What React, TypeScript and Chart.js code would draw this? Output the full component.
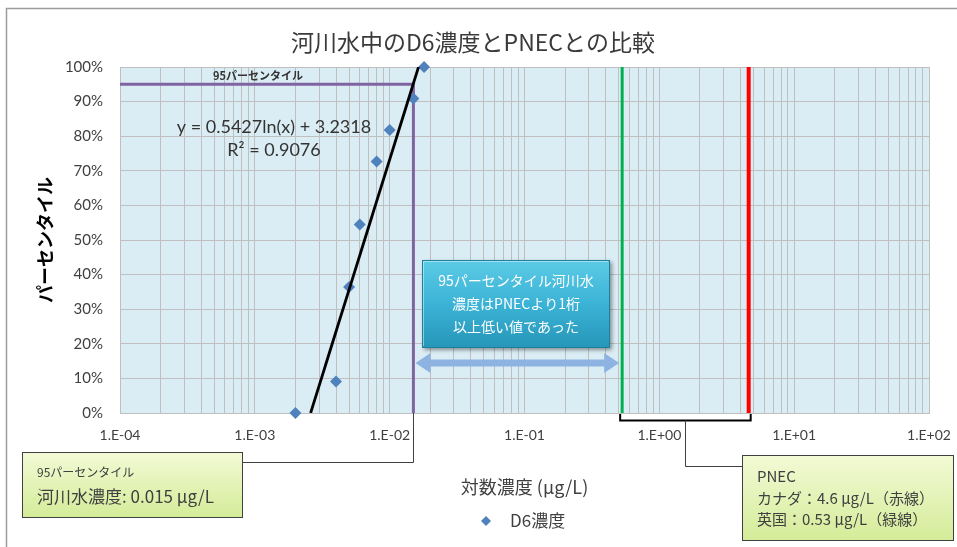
import React, { useEffect, useRef } from "react";
import { Chart, registerables } from "chart.js";

Chart.register(...registerables);

// ---------- data ----------
const chartTitle = "河川水中のD6濃度とPNECとの比較";
const seriesName = "D6濃度";
const d6Concentration = [0.002, 0.004, 0.005, 0.006, 0.008, 0.01, 0.015, 0.018];
const d6Percentile = [0, 9.1, 36.4, 54.5, 72.7, 81.8, 90.9, 100];
const trendCoefA = 0.5427;
const trendCoefB = 3.2318;
const trendPercentRange = [0, 100];
const trendLabel = ["y = 0.5427ln(x) + 3.2318", "R² = 0.9076"];
const p95Percentile = 95;
const p95Concentration = 0.015;
const pnecUK = 0.53;
const pnecCanada = 4.6;
const xDecades = [-4, -3, -2, -1, 0, 1, 2];
const xTickLabels = ["1.E-04", "1.E-03", "1.E-02", "1.E-01", "1.E+00", "1.E+01", "1.E+02"];
const yTickValues = [0, 10, 20, 30, 40, 50, 60, 70, 80, 90, 100];
const yTickLabels = ["0%", "10%", "20%", "30%", "40%", "50%", "60%", "70%", "80%", "90%", "100%"];
const xAxisTitle = "対数濃度 (μg/L)";
const yAxisTitle = "パーセンタイル";
const p95LineLabel = "95パーセンタイル";
const callout95 = ["95パーセンタイル", "河川水濃度: 0.015 μg/L"];
const calloutPnec = ["PNEC", "カナダ：4.6 μg/L（赤線）", "英国：0.53 μg/L（緑線）"];
const noteLines = ["95パーセンタイル河川水", "濃度はPNECより1桁", "以上低い値であった"];

const X_MIN = Math.pow(10, xDecades[0]);
const X_MAX = Math.pow(10, xDecades[xDecades.length - 1]);

const JP = "'Noto Sans CJK JP', sans-serif";
const LAT = "Lato, 'Noto Sans CJK JP', sans-serif";
const TXT = "#404040";

function buildXGrid(): number[] {
  const vals: number[] = [];
  for (let i = 0; i < xDecades.length - 1; i++) {
    for (let m = 1; m <= 9; m++) vals.push(m * Math.pow(10, xDecades[i]));
  }
  vals.push(X_MAX);
  return vals;
}

function text(ctx: CanvasRenderingContext2D, s: string, x: number, y: number, font: string, color: string, align: CanvasTextAlign = "left") {
  ctx.font = font;
  ctx.fillStyle = color;
  ctx.textAlign = align;
  ctx.textBaseline = "middle";
  ctx.fillText(s, x, y);
}

function greenBox(ctx: CanvasRenderingContext2D, x: number, y: number, w: number, h: number) {
  const g = ctx.createLinearGradient(0, y, 0, y + h);
  g.addColorStop(0, "#f3fad6");
  g.addColorStop(1, "#d4ec99");
  ctx.fillStyle = g;
  ctx.fillRect(x, y, w, h);
  ctx.strokeStyle = "#404040";
  ctx.lineWidth = 1;
  ctx.strokeRect(x + 0.5, y + 0.5, w, h);
}

const decorPlugin = {
  id: "decor",
  beforeDraw(chart: any) {
    const { ctx, chartArea: a, width, height } = chart;
    ctx.save();
    ctx.fillStyle = "#ffffff";
    ctx.fillRect(0, 0, width, height);
    ctx.fillStyle = "#dbedf4";
    ctx.fillRect(a.left, a.top, a.right - a.left, a.bottom - a.top);
    // outer frame
    ctx.strokeStyle = "#9c9c9c";
    ctx.lineWidth = 1.5;
    ctx.beginPath();
    ctx.moveTo(6.5, height);
    ctx.lineTo(6.5, 8.5);
    ctx.lineTo(width, 8.5);
    ctx.stroke();
    ctx.restore();
  },
  afterDraw(chart: any) {
    const { ctx, chartArea: a, scales } = chart;
    const xs = scales.x;
    const ys = scales.y;
    ctx.save();

    // title
    text(ctx, chartTitle, 473, 42, `23px ${JP}`, "#3a3a3a", "center");

    // 95 percentile label above purple line
    text(ctx, p95LineLabel, 258, ys.getPixelForValue(p95Percentile) - 8, `bold 11px ${JP}`, "#333333", "center");

    // trend equation
    text(ctx, trendLabel[0], 274, 127, `18px ${LAT}`, "#333333", "center");
    text(ctx, trendLabel[1], 274, 150, `18px ${LAT}`, "#333333", "center");

    const p95x = Math.round(xs.getPixelForValue(p95Concentration)) + 0.5;
    const ukx = xs.getPixelForValue(pnecUK);
    const cax = xs.getPixelForValue(pnecCanada);

    // note box (teal)
    const bx = 422, by = 260, bw = 188, bh = 88;
    ctx.save();
    ctx.shadowColor = "rgba(0,0,0,0.4)";
    ctx.shadowBlur = 4;
    ctx.shadowOffsetX = 2;
    ctx.shadowOffsetY = 2;
    const g = ctx.createLinearGradient(0, by, 0, by + bh);
    g.addColorStop(0, "#5ccbe6");
    g.addColorStop(0.5, "#3cb3d6");
    g.addColorStop(1, "#2596b8");
    ctx.fillStyle = g;
    ctx.fillRect(bx, by, bw, bh);
    ctx.restore();
    ctx.strokeStyle = "#1f7e9c";
    ctx.lineWidth = 1;
    ctx.strokeRect(bx + 0.5, by + 0.5, bw - 1, bh - 1);
    ctx.strokeStyle = "rgba(255,255,255,0.45)";
    ctx.beginPath();
    ctx.moveTo(bx + 1.5, by + bh - 2);
    ctx.lineTo(bx + 1.5, by + 1.5);
    ctx.lineTo(bx + bw - 2, by + 1.5);
    ctx.stroke();
    noteLines.forEach((s, i) => text(ctx, s, bx + bw / 2, 281 + i * 23, `14px ${JP}`, "#ffffff", "center"));

    // double arrow
    const ay = 363, x1 = p95x + 2, x2 = ukx - 3, sh = 7, hw = 20, hl = 15;
    ctx.fillStyle = "#8db3e2";
    ctx.beginPath();
    ctx.moveTo(x1, ay);
    ctx.lineTo(x1 + hl, ay - hw / 2);
    ctx.lineTo(x1 + hl, ay - sh / 2);
    ctx.lineTo(x2 - hl, ay - sh / 2);
    ctx.lineTo(x2 - hl, ay - hw / 2);
    ctx.lineTo(x2, ay);
    ctx.lineTo(x2 - hl, ay + hw / 2);
    ctx.lineTo(x2 - hl, ay + sh / 2);
    ctx.lineTo(x1 + hl, ay + sh / 2);
    ctx.lineTo(x1 + hl, ay + hw / 2);
    ctx.closePath();
    ctx.fill();

    // callout 1 connector and box
    ctx.strokeStyle = "#404040";
    ctx.lineWidth = 1;
    ctx.beginPath();
    ctx.moveTo(p95x, a.bottom);
    ctx.lineTo(p95x, 462.5);
    ctx.lineTo(242, 462.5);
    ctx.stroke();
    greenBox(ctx, 22, 452, 220, 65);
    text(ctx, callout95[0], 37, 472, `12px ${JP}`, TXT);
    text(ctx, callout95[1], 37, 497, `17px ${JP}`, TXT);

    // PNEC bracket
    const brY = a.bottom + 7.5;
    ctx.strokeStyle = "#000000";
    ctx.lineWidth = 2;
    ctx.beginPath();
    ctx.moveTo(ukx - 2, a.bottom + 1);
    ctx.lineTo(ukx - 2, brY);
    ctx.lineTo(cax + 2, brY);
    ctx.lineTo(cax + 2, a.bottom + 1);
    ctx.stroke();
    const mid = Math.round((ukx + cax) / 2) + 0.5;
    ctx.lineWidth = 1;
    ctx.strokeStyle = "#404040";
    ctx.beginPath();
    ctx.moveTo(mid, brY);
    ctx.lineTo(mid, 466.5);
    ctx.lineTo(742, 466.5);
    ctx.stroke();
    greenBox(ctx, 742, 455, 211, 85);
    text(ctx, calloutPnec[0], 757, 476, `15px ${JP}`, TXT);
    text(ctx, calloutPnec[1], 757, 498, `15px ${JP}`, TXT);
    text(ctx, calloutPnec[2], 757, 519, `15px ${JP}`, TXT);

    // legend
    const ds = chart.data.datasets[0];
    const lx = 486, ly = 521, r = 5;
    ctx.fillStyle = ds.backgroundColor;
    ctx.beginPath();
    ctx.moveTo(lx - r, ly);
    ctx.lineTo(lx, ly - r);
    ctx.lineTo(lx + r, ly);
    ctx.lineTo(lx, ly + r);
    ctx.closePath();
    ctx.fill();
    text(ctx, ds.label, 510, ly, `17px ${JP}`, TXT);

    ctx.restore();
  },
};

export default function App() {
  const ref = useRef<HTMLCanvasElement | null>(null);

  useEffect(() => {
    document.body.style.margin = "0";
    const canvas = ref.current;
    if (!canvas) return;

    const xGrid = buildXGrid();
    const trendPoints = trendPercentRange.map((p) => ({
      x: Math.exp((p / 100 - trendCoefB) / trendCoefA),
      y: p,
    }));

    const chart = new Chart(canvas, {
      type: "scatter",
      data: {
        datasets: [
          {
            label: seriesName,
            data: d6Concentration.map((x, i) => ({ x, y: d6Percentile[i] })),
            pointStyle: "rectRot",
            pointRadius: 6,
            backgroundColor: "#4f81bd",
            borderColor: "#4f81bd",
            borderWidth: 0,
            showLine: false,
            order: 1,
            clip: false,
          },
          {
            label: "trend",
            data: trendPoints,
            showLine: true,
            borderColor: "#000000",
            borderWidth: 2.8,
            pointRadius: 0,
            order: 0,
          },
          {
            label: "p95",
            data: [
              { x: X_MIN, y: p95Percentile },
              { x: p95Concentration, y: p95Percentile },
              { x: p95Concentration, y: 0 },
            ],
            showLine: true,
            borderColor: "#8064a2",
            borderWidth: 3,
            pointRadius: 0,
            order: 2,
          },
          {
            label: "PNEC UK",
            data: [
              { x: pnecUK, y: 0 },
              { x: pnecUK, y: 100 },
            ],
            showLine: true,
            borderColor: "#00b050",
            borderWidth: 3,
            pointRadius: 0,
            order: 2,
          },
          {
            label: "PNEC Canada",
            data: [
              { x: pnecCanada, y: 0 },
              { x: pnecCanada, y: 100 },
            ],
            showLine: true,
            borderColor: "#ff0000",
            borderWidth: 4,
            pointRadius: 0,
            order: 2,
          },
        ],
      },
      options: {
        responsive: false,
        animation: false,
        devicePixelRatio: 1,
        layout: { padding: { top: 67, right: 28, bottom: 0, left: 0 } },
        plugins: {
          legend: { display: false },
          title: { display: false },
          tooltip: { enabled: false },
        },
        scales: {
          x: {
            type: "logarithmic",
            min: X_MIN,
            max: X_MAX,
            afterBuildTicks: (s: any) => {
              s.ticks = xGrid.map((v) => ({ value: v }));
            },
            afterFit: (s: any) => {
              s.height = 134;
              s.paddingLeft = 0;
              s.paddingRight = 0;
            },
            grid: { color: "#bfbfbf", lineWidth: 1, drawTicks: false },
            border: { color: "#bfbfbf" },
            ticks: {
              autoSkip: false,
              maxRotation: 0,
              minRotation: 0,
              padding: 14,
              color: TXT,
              font: { family: LAT, size: 14 },
              callback: (v: any) => {
                const l = Math.log10(Number(v));
                const e = Math.round(l);
                const i = xDecades.indexOf(e);
                return Math.abs(l - e) < 1e-6 && i >= 0 ? xTickLabels[i] : "";
              },
            },
            title: {
              display: true,
              text: xAxisTitle,
              color: TXT,
              font: { family: JP, size: 18 },
              padding: { top: 0, bottom: 49 },
            },
          },
          y: {
            type: "linear",
            min: 0,
            max: 100,
            afterBuildTicks: (s: any) => {
              s.ticks = yTickValues.map((v) => ({ value: v }));
            },
            afterFit: (s: any) => {
              s.width = 120;
              s.paddingTop = 0;
              s.paddingBottom = 0;
            },
            grid: { color: "#bfbfbf", lineWidth: 1, drawTicks: false },
            border: { color: "#bfbfbf" },
            ticks: {
              padding: 17,
              color: TXT,
              font: { family: LAT, size: 15 },
              callback: (v: any) => {
                const i = yTickValues.indexOf(Number(v));
                return i >= 0 ? yTickLabels[i] : "";
              },
            },
            title: {
              display: true,
              text: yAxisTitle,
              color: "#000000",
              font: { family: JP, size: 18, weight: "bold" },
              padding: { top: 34, bottom: 0 },
            },
          },
        },
      } as any,
      plugins: [decorPlugin],
    });

    return () => chart.destroy();
  }, []);

  return (
    <canvas
      ref={ref}
      width={957}
      height={547}
      style={{ display: "block", width: 957, height: 547 }}
    />
  );
}
